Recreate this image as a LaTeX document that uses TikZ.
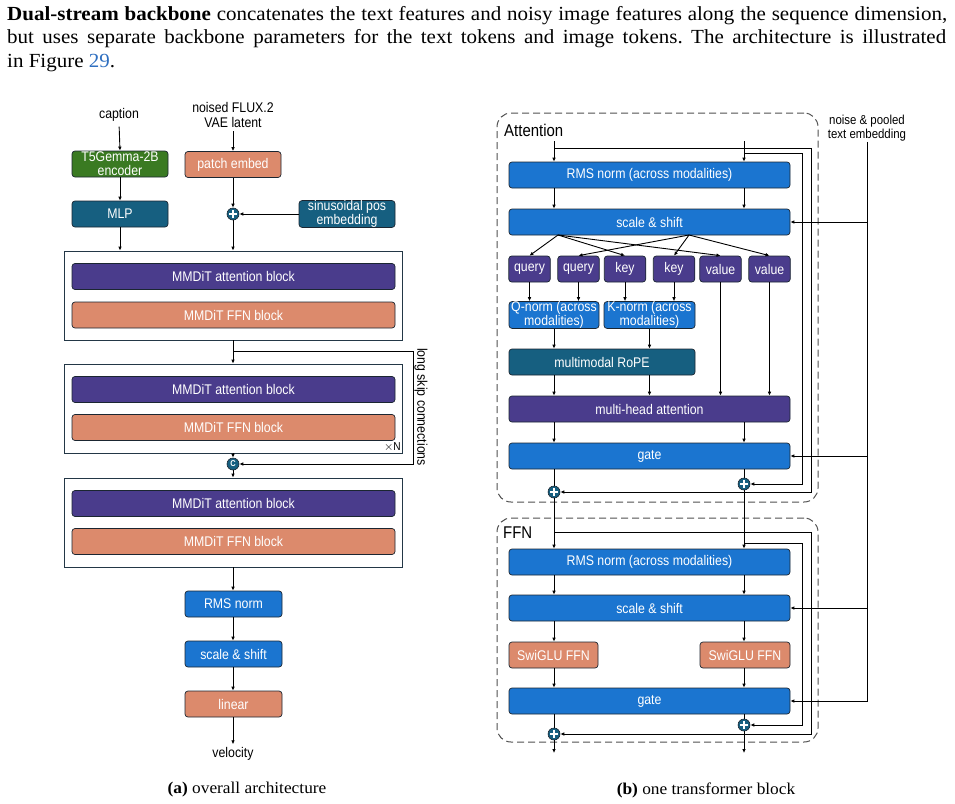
\documentclass[tikz,border=0pt]{standalone}
\usepackage{fontspec}
\setmainfont{Liberation Serif}
\newfontfamily\dfont[FakeStretch=0.88]{Liberation Sans}
\newfontfamily\bodyfont[FakeStretch=1.05]{Liberation Serif}
\usetikzlibrary{arrows.meta,calc}
\definecolor{cblue}{HTML}{1B75D0}
\definecolor{cpurple}{HTML}{4A3C8C}
\definecolor{csalmon}{HTML}{DC8A6C}
\definecolor{cteal}{HTML}{165F80}
\definecolor{cgreen}{HTML}{3A7A22}
\definecolor{cborder}{HTML}{1B2631}
\definecolor{couter}{HTML}{233746}
\definecolor{clink}{HTML}{2F6FC0}
\definecolor{cdash}{HTML}{505050}
\frenchspacing
\begin{document}
\begin{tikzpicture}[x=1pt,y=-1pt,
  >={Latex[length=4pt,width=3.6pt]},
  conn/.style={draw=black, line width=0.9pt},
  arr/.style={conn, ->},
  box/.style={draw=cborder, line width=0.7pt, rounded corners=3pt, text=white,
    font=\dfont\fontsize{14}{13.8}\selectfont, align=center, inner sep=0pt},
  lbl/.style={font=\dfont\fontsize{14}{15}\selectfont, align=center, inner sep=1pt, text=black},
  outer/.style={draw=couter, line width=0.8pt, fill=white, inner sep=0pt},
  dbox/.style={draw=cdash, line width=1pt, dash pattern=on 7pt off 4pt, rounded corners=14pt, inner sep=0pt},
  wide/.style={minimum width=323, minimum height=26},
  small/.style={minimum width=96, minimum height=26},
  rwide/.style={minimum width=281, minimum height=26},
  tok/.style={box, fill=cpurple, minimum width=41.5, minimum height=26},
  plusc/.style={circle, fill=cteal, draw=cborder, line width=0.6pt, minimum size=12pt, inner sep=0pt,
    path picture={\draw[white, line width=1.3pt]
      ([xshift=-3.6pt]path picture bounding box.center) -- ([xshift=3.6pt]path picture bounding box.center)
      ([yshift=-3.6pt]path picture bounding box.center) -- ([yshift=3.6pt]path picture bounding box.center);}},
  capc/.style={circle, fill=cteal, draw=cborder, line width=0.6pt, minimum size=12pt, inner sep=0pt,
    text=white, font=\dfont\bfseries\fontsize{8.5}{8.5}\selectfont}
]
\useasboundingbox (0,0) rectangle (955,803);

% ---------------- body text ----------------
\node[anchor=base west, inner sep=0, font=\bodyfont\fontsize{20}{23.5}\selectfont] (l1) at (7,20)
  {\makebox[940pt][s]{\textbf{Dual-stream backbone} concatenates the text features and noisy image features along the sequence dimension,}};
\node[anchor=base west, inner sep=0, font=\bodyfont\fontsize{20}{23.5}\selectfont] (l2) at (7,43.5)
  {\makebox[939pt][s]{but uses separate backbone parameters for the text tokens and image tokens. The architecture is illustrated}};
\node[anchor=base west, inner sep=0, font=\bodyfont\fontsize{20}{23.5}\selectfont] (l3) at (7,67)
  {in Figure \textcolor{clink}{29}.};

% ---------------- (a) overall architecture ----------------
\node[lbl] (cap) at (119,115) {caption};
\node[lbl] (noised) at (233,114.5) {noised FLUX.2\\VAE latent};
\node[box, fill=cgreen, small] (t5) at (120,164) {T5Gemma-2B\\encoder};
\node[box, fill=csalmon, small] (patch) at (233,164.5) {patch embed};
\node[box, fill=cteal, small] (mlp) at (120,214) {MLP};
\node[plusc] (p0) at (233,214) {};
\node[box, fill=cteal, small] (sinus) at (347,214) {sinusoidal pos\\embedding};

\node[outer, minimum width=338, minimum height=89] (o1) at (233,295.5) {};
\node[box, fill=cpurple, wide] (a1) at (233.5,276.5) {MMDiT attention block};
\node[box, fill=csalmon, wide] (f1) at (233.5,315) {MMDiT FFN block};

\node[outer, minimum width=338, minimum height=89] (o2) at (233,408.5) {};
\node[box, fill=cpurple, wide] (a2) at (233.5,389.5) {MMDiT attention block};
\node[box, fill=csalmon, wide] (f2) at (233.5,427.5) {MMDiT FFN block};
\node[anchor=east, inner sep=0pt, font=\dfont\fontsize{11.5}{11.5}\selectfont] (xn) at (401,447) {$\times$N};

\node[capc] (cc) at (233,464) {C};

\node[outer, minimum width=338, minimum height=89] (o3) at (233,522.5) {};
\node[box, fill=cpurple, wide] (a3) at (233.5,503.5) {MMDiT attention block};
\node[box, fill=csalmon, wide] (f3) at (233.5,541.5) {MMDiT FFN block};

\node[box, fill=cblue, minimum width=97, minimum height=26] (rms0) at (233.5,604) {RMS norm};
\node[box, fill=cblue, minimum width=97, minimum height=26] (ss0) at (233.5,654) {scale \& shift};
\node[box, fill=csalmon, minimum width=97, minimum height=26] (lin) at (233.5,704) {linear};
\node[lbl, inner sep=3pt] (vel) at (233,754) {velocity};

\node[lbl, rotate=-90] (skiplbl) at (421,407) {long skip connections};

\draw[arr, shorten <=4pt] (cap.south) -- (t5.north);
\draw[arr, shorten <=3pt] (noised.south) -- (noised.south |- patch.north);
\draw[arr] (t5) -- (mlp);
\draw[arr] (patch) -- (p0);
\draw[arr] (sinus) -- (p0);
\draw[arr] (mlp) -- (mlp |- o1.north);
\draw[arr] (p0) -- (p0 |- o1.north);
\draw[arr] (o1.south) -- (o2.north);
\coordinate (skA) at (233,351);
\coordinate (skX) at (413,0);
\draw[arr] (skA) -- (skA -| skX) |- (cc);
\draw[arr] (o2.south) -- (cc);
\draw[arr] (cc) -- (o3.north);
\draw[arr] (o3.south) -- (o3.south |- rms0.north);
\draw[arr] (rms0.south -| o3.south) -- (ss0.north -| o3.south);
\draw[arr] (ss0.south -| o3.south) -- (lin.north -| o3.south);
\draw[arr] (lin.south -| o3.south) -- (vel.north);

% ---------------- (b) one transformer block ----------------
\node[dbox, minimum width=321, minimum height=389] (attbox) at (657.5,307.5) {};
\node[dbox, minimum width=321, minimum height=224] (ffnbox) at (657.5,630) {};
\node[anchor=west, inner sep=0pt, font=\dfont\fontsize{17}{17}\selectfont] (attlbl) at (504,130) {Attention};
\node[anchor=west, inner sep=0pt, font=\dfont\fontsize{17}{17}\selectfont] (ffnlbl) at (503,533) {FFN};
\node[lbl, inner sep=0.5pt, font=\dfont\fontsize{13}{14}\selectfont] (noise) at (867,128) {noise \& pooled\\text embedding};

\node[box, fill=cblue, rwide] (rms1) at (649.5,175) {RMS norm (across modalities)};
\node[box, fill=cblue, rwide] (ss1) at (649.5,222) {scale \& shift};
\node[tok] (q1) at (529.5,269) {query};
\node[tok] (q2) at (578.5,269) {query};
\node[tok] (k1) at (625,269) {key};
\node[tok] (k2) at (674,269) {key};
\node[tok] (v1) at (720.5,269) {value};
\node[tok] (v2) at (769.5,269) {value};
\node[box, fill=cblue, minimum width=90, minimum height=26] (qn) at (554,315) {Q-norm (across\\modalities)};
\node[box, fill=cblue, minimum width=91, minimum height=26] (kn) at (649.5,315) {K-norm (across\\modalities)};
\node[box, fill=cteal, minimum width=186, minimum height=26] (rope) at (602,362) {multimodal RoPE};
\node[box, fill=cpurple, rwide] (mha) at (649.5,409) {multi-head attention};
\node[box, fill=cblue, rwide] (gate1) at (649.5,456) {gate};
\node[plusc] (pL1) at (554,492) {};
\node[plusc] (pR1) at (744,484) {};

\node[box, fill=cblue, rwide] (rms2) at (649.5,562) {RMS norm (across modalities)};
\node[box, fill=cblue, rwide] (ss2) at (649.5,608) {scale \& shift};
\node[box, fill=csalmon, minimum width=89, minimum height=26] (swL) at (553.5,655) {SwiGLU FFN};
\node[box, fill=csalmon, minimum width=90, minimum height=26] (swR) at (745,655) {SwiGLU FFN};
\node[box, fill=cblue, rwide] (gate2) at (649.5,701) {gate};
\node[plusc] (pL2) at (554,734) {};
\node[plusc] (pR2) at (744,725) {};

\coordinate (in1) at (554,141);
\coordinate (in2) at (744,141);
\coordinate (colO) at (811,0);
\coordinate (colI) at (802,0);
\coordinate (rL1) at (554,148);
\coordinate (rR1) at (744,153);
\coordinate (rL2) at (554,532);
\coordinate (rR2) at (744,543);
\coordinate (fL) at (558,235);
\coordinate (fR) at (689,235);
\coordinate (oL) at (554,753);
\coordinate (oR) at (744,753);

% attention streams
\draw[arr] (in1) -- (in1 |- rms1.north);
\draw[arr] (in2) -- (in2 |- rms1.north);
\draw[arr] (rL1) -- (rL1 -| colO) |- (pL1);
\draw[arr] (rR1) -- (rR1 -| colI) |- (pR1);
\draw[arr] (rms1.south -| in1) -- (ss1.north -| in1);
\draw[arr] (rms1.south -| in2) -- (ss1.north -| in2);
\draw[arr] (fL) -- (q1.north);
\draw[arr] (fL) -- (k1.north);
\draw[arr] (fL) -- (v1.north);
\draw[arr] (fR) -- (q2.north);
\draw[arr] (fR) -- (k2.north);
\draw[arr] (fR) -- (v2.north);
\draw[arr] (q1.south) -- (q1.south |- qn.north);
\draw[arr] (q2.south) -- (q2.south |- qn.north);
\draw[arr] (k1.south) -- (k1.south |- kn.north);
\draw[arr] (k2.south) -- (k2.south |- kn.north);
\draw[arr] (qn.south) -- (qn.south |- rope.north);
\draw[arr] (kn.south) -- (kn.south |- rope.north);
\draw[arr] (qn.south |- rope.south) -- (qn.south |- mha.north);
\draw[arr] (kn.south |- rope.south) -- (kn.south |- mha.north);
\draw[arr] (v1.south) -- (v1.south |- mha.north);
\draw[arr] (v2.south) -- (v2.south |- mha.north);
\draw[arr] (mha.south -| in1) -- (gate1.north -| in1);
\draw[arr] (mha.south -| in2) -- (gate1.north -| in2);
\draw[conn] (gate1.south -| pL1) -- (pL1);
\draw[conn] (gate1.south -| pR1) -- (pR1);

% conditioning
\draw[arr] (noise.south) |- (gate2.east);
\draw[arr] (noise.south |- ss1.east) -- (ss1.east);
\draw[arr] (noise.south |- gate1.east) -- (gate1.east);
\draw[arr] (noise.south |- ss2.east) -- (ss2.east);

% ffn streams
\draw[arr] (pL1) -- (pL1 |- rms2.north);
\draw[arr] (pR1) -- (pR1 |- rms2.north);
\draw[arr] (rL2) -- (rL2 -| colO) |- (pL2);
\draw[arr] (rR2) -- (rR2 -| colI) |- (pR2);
\draw[arr] (rms2.south -| in1) -- (ss2.north -| in1);
\draw[arr] (rms2.south -| in2) -- (ss2.north -| in2);
\draw[arr] (ss2.south -| in1) -- (swL.north -| in1);
\draw[arr] (ss2.south -| in2) -- (swR.north -| in2);
\draw[arr] (swL.south -| in1) -- (gate2.north -| in1);
\draw[arr] (swR.south -| in2) -- (gate2.north -| in2);
\draw[conn] (gate2.south -| pL2) -- (pL2);
\draw[conn] (gate2.south -| pR2) -- (pR2);
\draw[arr] (pL2) -- (oL);
\draw[arr] (pR2) -- (oR);

% captions
\node[font=\bodyfont\fontsize{16.5}{18}\selectfont, inner sep=0pt] (capa) at (247,790) {\textbf{(a)} overall architecture};
\node[font=\bodyfont\fontsize{16.5}{18}\selectfont, inner sep=0pt] (capb) at (706,790) {\textbf{(b)} one transformer block};
\end{tikzpicture}
\end{document}
